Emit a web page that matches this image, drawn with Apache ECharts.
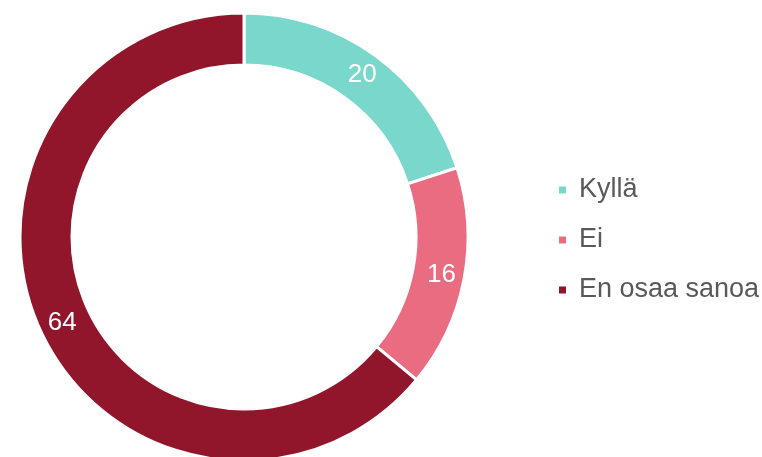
<!DOCTYPE html>
<html>
<head>
<meta charset="utf-8">
<script src="https://cdn.jsdelivr.net/npm/echarts@6/dist/echarts.min.js"></script>
<style>
  html, body { margin: 0; padding: 0; background: #fff; }
  #chart { width: 762px; height: 457px; }
</style>
</head>
<body>
<div id="chart"></div>
<script>
var categories = ['Kyllä', 'Ei', 'En osaa sanoa'];
var values = [20, 16, 64];
var colors = ['#7ad7cb', '#e96c80', '#92162b'];

var chart = echarts.init(document.getElementById('chart'));
var option = {
  animation: false,
  color: colors,
  legend: {
    orient: 'vertical',
    left: 557,
    top: 176,
    padding: 0,
    icon: 'rect',
    itemWidth: 9,
    itemHeight: 9,
    itemGap: 22,
    textStyle: {
      color: '#595959',
      fontFamily: 'Liberation Sans',
      fontSize: 27,
      lineHeight: 28,
      padding: [0, 0, 0, 7]
    },
    data: categories
  },
  series: [
    {
      type: 'pie',
      center: [244, 237],
      radius: [172, 224],
      startAngle: 90,
      clockwise: true,
      itemStyle: {
        borderColor: '#fff',
        borderWidth: 3
      },
      label: {
        show: true,
        position: 'inside',
        color: '#fff',
        fontFamily: 'Liberation Sans',
        fontSize: 26,
        formatter: '{c}'
      },
      labelLine: { show: false },
      emphasis: { disabled: true },
      data: categories.map(function (name, i) {
        return { name: name, value: values[i] };
      })
    }
  ]
};
chart.setOption(option);
</script>
</body>
</html>
